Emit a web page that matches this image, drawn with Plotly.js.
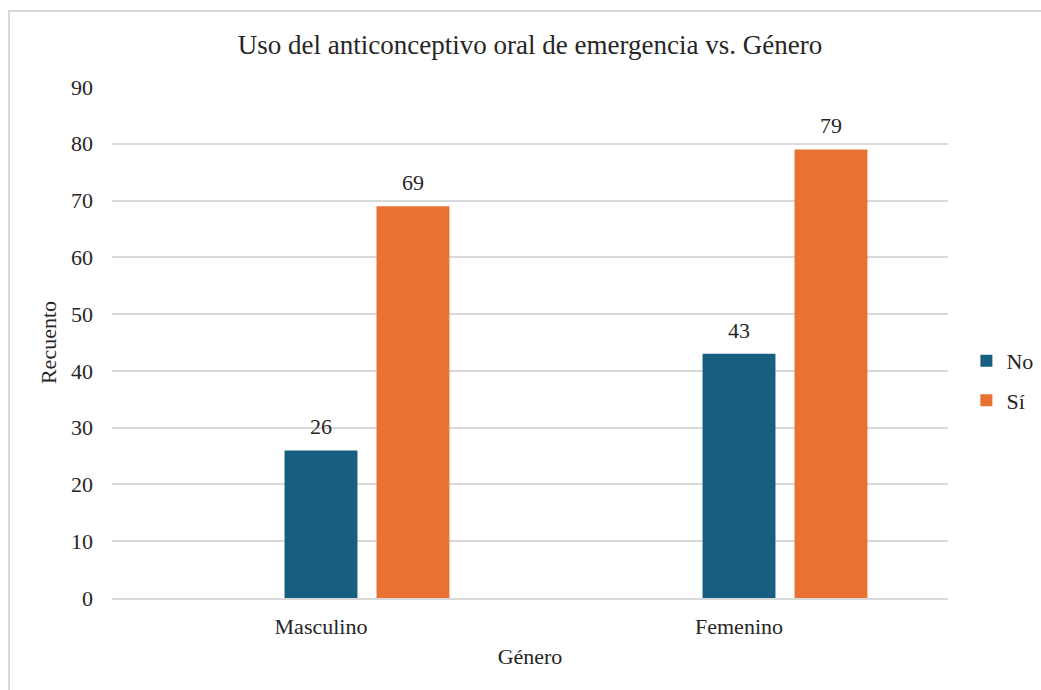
<!DOCTYPE html>
<html><head><meta charset="utf-8">
<script src="https://cdn.plot.ly/plotly-3.0.1.min.js"></script>
<style>body{margin:0;background:#fff}#frame{position:absolute;left:8px;top:10px;width:1100px;height:800px;border:2px solid #d9d9d9;box-sizing:border-box;pointer-events:none}</style>
</head><body>
<div id="chart" style="width:1041px;height:690px;"></div>
<div id="frame"></div>
<script>
const categories = ["Masculino", "Femenino"];
const seriesNames = ["No", "Sí"];
const noValues = [26, 43];
const siValues = [69, 79];
const colors = ["#175E81", "#E97132"];
const font = "'Liberation Serif', 'Times New Roman', serif";

const bargap = 0.34;
const slot = (1 - bargap) / 3;

const traces = [
  {type: "bar", x: categories, y: [null, null], name: "", showlegend: false, hoverinfo: "skip"},
  {type: "bar", x: categories, y: noValues, name: seriesNames[0], marker: {color: colors[0]}, legendgroup: "a"},
  {type: "bar", x: categories, y: siValues, name: seriesNames[1], marker: {color: colors[1]}, legendgroup: "b"}
];

const annotations = [];
categories.forEach((c, i) => {
  [[noValues, 0], [siValues, slot]].forEach(([vals, off]) => {
    annotations.push({xref: "x", yref: "y", x: i + off, y: vals[i], text: String(vals[i]),
      showarrow: false, yanchor: "bottom", yshift: 9, font: {size: 22, family: font, color: "#262626"}});
  });
});

const layout = {
  width: 1041, height: 690,
  margin: {l: 112, r: 93, t: 87, b: 92, autoexpand: false},
  paper_bgcolor: "rgba(0,0,0,0)", plot_bgcolor: "#fff",
  font: {family: font, color: "#262626", size: 22},
  title: {text: "Uso del anticonceptivo oral de emergencia vs. Género", xref: "paper", x: 0.5, xanchor: "center", y: 0.935, yanchor: "middle", font: {size: 27, family: font, color: "#262626"}},
  barmode: "group", bargap: bargap, bargroupgap: 0.207,
  xaxis: {title: {text: "Género", font: {size: 22}, standoff: 10}, tickfont: {size: 22}, showline: true, linecolor: "#d9d9d9", linewidth: 2, ticks: "", ticklabelstandoff: 8, automargin: false},
  yaxis: {title: {text: "Recuento", font: {size: 22}, standoff: 8}, range: [0, 90], dtick: 10, tickfont: {size: 22}, gridcolor: "#d9d9d9", gridwidth: 2, zeroline: false, ticks: "", ticklabelstandoff: 18, automargin: false},
  legend: {x: 1.022, y: 0.425, yanchor: "middle", xanchor: "left", font: {size: 22}, tracegroupgap: 8, itemwidth: 30},
  annotations: annotations,
  showlegend: true
};
Plotly.newPlot("chart", traces, layout, {displayModeBar: false, staticPlot: true});
</script>
</body></html>
